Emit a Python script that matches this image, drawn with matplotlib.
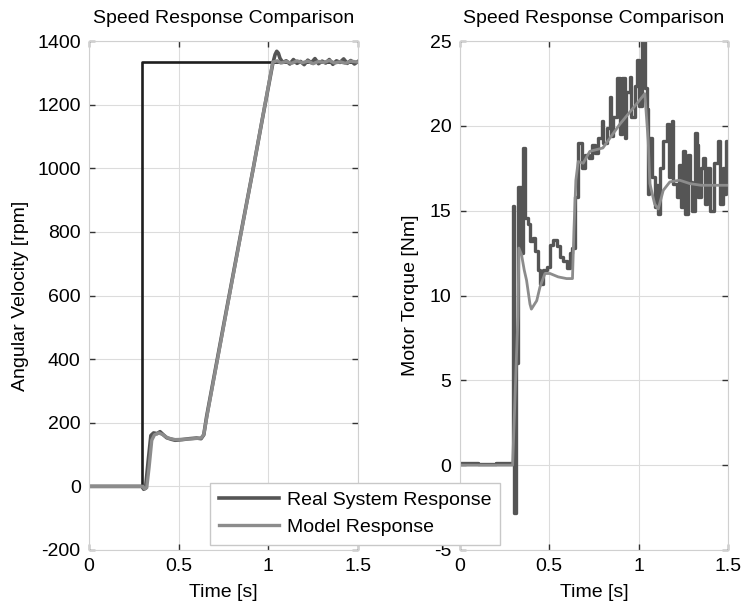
import numpy as np
import matplotlib.pyplot as plt

plt.rcParams['font.family'] = ['Liberation Sans', 'DejaVu Sans']
plt.rcParams['font.size'] = 14
plt.rcParams['axes.unicode_minus'] = False

# reference speed command
ref_t = [0.0, 0.294, 0.294, 1.5]
ref_v = [0, 0, 1335, 1335]

# measured speed [rpm]
real_speed_t = [0.0, 0.295, 0.305, 0.315, 0.33, 0.345, 0.36, 0.38, 0.396, 0.415, 0.433, 0.46,
                0.48, 0.52, 0.56, 0.60, 0.625, 0.64, 0.656, 0.75, 0.85, 0.916,
                0.97, 1.025, 1.038, 1.047, 1.056, 1.065, 1.08, 1.10, 1.12, 1.14, 1.16,
                1.18, 1.20, 1.22, 1.24, 1.26, 1.28, 1.30, 1.32, 1.34, 1.36, 1.38, 1.40, 1.42,
                1.44, 1.46, 1.48, 1.50]
real_speed_v = [0, 0, -9, -6, 80, 160, 168, 166, 172, 162, 153, 148,
                145, 147, 150, 152, 150, 162, 220, 505, 805, 1000,
                1165, 1330, 1358, 1368, 1362, 1346, 1333, 1338, 1328, 1342, 1330,
                1336, 1326, 1340, 1332, 1345, 1329, 1337, 1331, 1342, 1327, 1338, 1333, 1344,
                1330, 1339, 1328, 1336]

# model speed [rpm]
model_speed_t = [0.0, 0.30, 0.31, 0.322, 0.335, 0.35, 0.365, 0.39, 0.41, 0.44, 0.48, 0.53,
                 0.58, 0.625, 0.64, 0.66, 0.78, 0.916, 1.025,
                 1.05, 1.07, 1.10, 1.13, 1.16, 1.19, 1.22, 1.25, 1.28, 1.31, 1.34, 1.37,
                 1.40, 1.43, 1.46, 1.50]
model_speed_v = [0, 0, -8, -4, 60, 145, 162, 168, 163, 152, 147, 148,
                 150, 152, 163, 228, 592, 1000, 1334,
                 1338, 1331, 1336, 1330, 1338, 1332, 1337, 1329, 1336, 1333, 1339, 1331,
                 1335, 1330, 1337, 1334]

# measured motor torque [Nm]
real_tq_t = [0.0, 0.10, 0.20, 0.29, 0.297, 0.304, 0.315, 0.326, 0.34, 0.351, 0.364, 0.382,
             0.392, 0.41, 0.42, 0.438, 0.448, 0.466, 0.485, 0.504, 0.522, 0.541, 0.56,
             0.578, 0.597, 0.616, 0.625, 0.644, 0.662, 0.681, 0.70, 0.72, 0.737, 0.755,
             0.774, 0.793, 0.80, 0.821, 0.839, 0.848, 0.858, 0.877, 0.895, 0.905, 0.923,
             0.93, 0.951, 0.96, 0.979, 0.989, 1.0, 1.017, 1.035, 1.045, 1.05, 1.06, 1.075,
             1.09, 1.10, 1.11, 1.12, 1.138, 1.157, 1.17, 1.185, 1.195, 1.213, 1.225, 1.235,
             1.25, 1.26, 1.278, 1.29, 1.30, 1.315, 1.325, 1.335, 1.35, 1.36, 1.37, 1.385,
             1.40, 1.42, 1.445, 1.455, 1.47, 1.48, 1.49, 1.50]
real_tq_v = [0.1, 0.05, 0.1, 0.1, 15.3, -2.8, 6.0, 16.4, 12.5, 18.7, 14.6, 14.2,
             13.2, 13.4, 12.6, 11.5, 10.7, 11.5, 11.7, 13.0, 13.3, 12.9, 12.25,
             12.05, 11.6, 12.5, 12.8, 15.8, 19.0, 17.5, 18.3, 18.1, 18.9, 18.4,
             19.3, 20.3, 19.0, 19.9, 21.7, 19.4, 20.5, 22.8, 19.5, 22.8, 19.3,
             22.0, 22.9, 20.5, 22.35, 23.9, 21.2, 25.0, 22.25, 21.0, 16.0, 19.3, 17.0,
             15.2, 16.5, 14.8, 17.5, 19.1, 20.1, 17.0, 20.3, 16.6, 15.8, 17.7, 15.2,
             18.5, 14.8, 18.3, 16.7, 15.0, 19.6, 18.9, 15.8, 17.5, 18.1, 15.4, 17.5,
             15.0, 17.8, 19.1, 15.4, 17.5, 16.0, 19.1, 17.0]

# model motor torque [Nm]
model_tq_t = [0.0, 0.295, 0.305, 0.315, 0.325, 0.33, 0.345, 0.36, 0.373, 0.392, 0.40,
              0.43, 0.448, 0.476, 0.504, 0.55, 0.597, 0.63, 0.638, 0.649, 0.662, 0.69,
              0.727, 0.80, 0.895, 0.989, 1.035, 1.054, 1.063, 1.09, 1.11, 1.138, 1.175,
              1.23, 1.287, 1.35, 1.50]
model_tq_v = [0, 0, 3.0, 6.0, 8.8, 12.8, 12.4, 11.5, 10.9, 9.5, 9.2,
              9.7, 10.5, 11.3, 11.3, 11.1, 11.0, 11.0, 13.8, 16.8, 17.9, 17.8,
              18.5, 18.7, 20.1, 21.3, 21.9, 19.1, 16.6, 15.4, 15.1, 16.2, 16.7,
              16.8, 16.6, 16.5, 16.5]

time_ticks = [0, 0.5, 1, 1.5]
time_labels = ['0', '0.5', '1', '1.5']

c_ref = '#1e1e1e'
c_real = '#555555'
c_model = '#8c8c8c'

fig = plt.figure(figsize=(7.43, 6.08), dpi=100)
ax1 = fig.add_axes([0.1198, 0.0954, 0.362, 0.837])
ax2 = fig.add_axes([0.619, 0.0954, 0.3607, 0.837])

ax1.plot(ref_t, ref_v, color=c_ref, lw=1.9)
l_real, = ax1.plot(real_speed_t, real_speed_v, color=c_real, lw=2.6, label='Real System Response')
l_model, = ax1.plot(model_speed_t, model_speed_v, color=c_model, lw=2.4, label='Model Response')
ax1.set_ylim(-200, 1400)
ax1.set_yticks(np.arange(-200, 1401, 200))
ax1.set_ylabel('Angular Velocity [rpm]', labelpad=6)

ax2.plot(real_tq_t, real_tq_v, color=c_real, lw=2.4, drawstyle='steps-post')
ax2.plot(model_tq_t, model_tq_v, color=c_model, lw=2.0)
ax2.set_ylim(-5, 25)
ax2.set_yticks(np.arange(-5, 26, 5))
ax2.set_ylabel('Motor Torque [Nm]', labelpad=8)

for ax in (ax1, ax2):
    ax.set_xlim(0, 1.5)
    ax.set_xticks(time_ticks)
    ax.set_xticklabels(time_labels)
    ax.set_xlabel('Time [s]', labelpad=6)
    ax.set_title('Speed Response Comparison', fontsize=14, pad=13)
    ax.grid(True, color='#dcdcdc', lw=0.8)
    ax.set_axisbelow(True)
    for s in ax.spines.values():
        s.set_color('#d0d0d0')
        s.set_linewidth(0.8)
    ax.tick_params(direction='in', top=True, right=True, length=4, width=1.0,
                   color='#333333', pad=6)

fig.legend(handles=[l_real, l_model], loc='center', bbox_to_anchor=(0.478, 0.155),
           fancybox=False, framealpha=1, edgecolor='#c8c8c8', handlelength=3.1,
           handletextpad=0.4, borderpad=0.45, labelspacing=0.5, fontsize=14)

fig.savefig('out.png', dpi=100)
